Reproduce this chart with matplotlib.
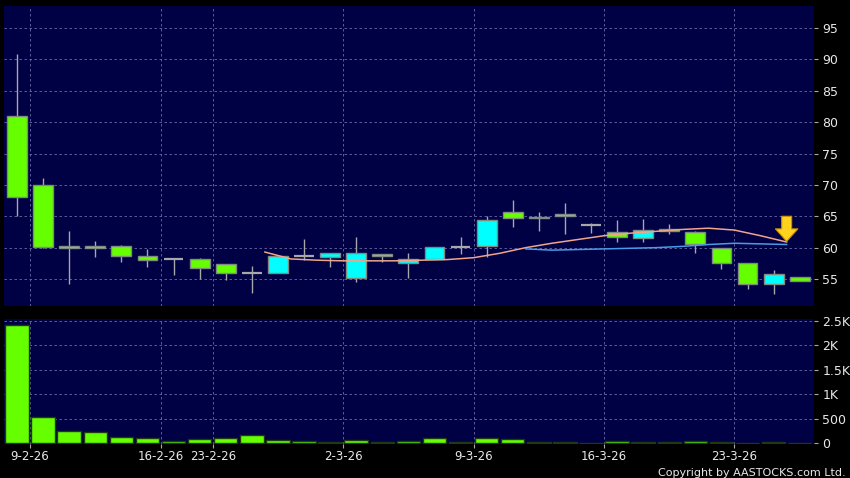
import matplotlib
matplotlib.use("Agg")
import matplotlib.pyplot as plt
from matplotlib.patches import Rectangle
from matplotlib.ticker import FixedLocator, FuncFormatter
import numpy as np

# daily candles, 6-2-26 .. 25-3-26 (index positions on the x axis)
opens = [81.0, 70.0, 60.2, 60.0, 60.3, 58.7, 58.2, 58.2, 57.4, 56.0,
         55.9, 58.7, 58.5, 55.2, 59.0, 57.6, 58.2, 60.1, 60.3, 65.7,
         64.7, 65.0, 63.6, 62.5, 61.5, 63.0, 62.5, 59.9, 57.5, 54.2, 55.3]
closes = [68.1, 60.1, 60.0, 60.2, 58.7, 58.1, 58.2, 56.8, 55.9, 56.0,
          58.7, 58.7, 59.1, 59.1, 58.6, 58.2, 60.1, 60.1, 64.4, 64.7,
          64.9, 65.4, 63.6, 61.7, 62.8, 62.6, 60.6, 57.5, 54.2, 55.8, 54.7]
highs = [90.9, 71.1, 62.7, 61.1, 60.5, 59.8, 58.4, 58.4, 57.4, 57.1,
         58.8, 61.4, 59.2, 61.7, 59.0, 59.1, 60.1, 61.7, 65.0, 67.6,
         65.7, 67.1, 63.9, 64.4, 64.6, 63.8, 62.7, 59.9, 57.5, 56.4, 55.3]
lows = [65.0, 60.0, 54.2, 58.5, 57.7, 56.9, 55.6, 55.0, 54.8, 52.8,
        55.9, 58.0, 56.9, 54.5, 57.7, 55.2, 58.2, 59.0, 58.5, 63.3,
        62.7, 62.2, 62.3, 60.9, 60.9, 62.2, 59.1, 56.6, 53.4, 52.6, 54.7]
volumes = [2420, 530, 250, 225, 120, 100, 40, 80, 95, 170,
           55, 50, 20, 55, 20, 45, 100, 20, 100, 80,
           25, 20, 10, 45, 25, 25, 40, 15, 10, 20, 5]

# moving averages as drawn (x in candle index units)
ma10_x = [9.5, 10.5, 11.5, 12.5, 13.5, 14.5, 15.5, 16.5, 17.5, 18.5, 19.5,
          20.5, 21.5, 22.5, 23.5, 24.5, 25.5, 26.5, 27.5, 28.5, 29.5]
ma10 = [59.3, 58.2, 58.0, 57.9, 57.9, 57.9, 58.0, 58.1, 58.4, 59.1, 60.0,
        60.7, 61.3, 61.9, 62.3, 62.6, 62.9, 63.1, 62.8, 61.9, 60.9]
ma20_x = [19.5, 20.5, 21.5, 22.5, 23.5, 24.5, 25.5, 26.5, 27.5, 28.5, 29.5]
ma20 = [59.8, 59.6, 59.7, 59.8, 59.9, 60.0, 60.2, 60.5, 60.7, 60.6, 60.5]

date_idx = [1, 6, 8, 13, 18, 23, 28]
date_labels = ["9-2-26", "16-2-26", "23-2-26", "2-3-26", "9-3-26", "16-3-26", "23-3-26"]
price_ticks = [55, 60, 65, 70, 75, 80, 85, 90, 95]
vol_ticks = [0, 500, 1000, 1500, 2000, 2500]

BG = "#000044"
GRID = "#6a6aa8"
TXT = "#e8e8e8"
UP = "#00ffff"
DOWN = "#66ff00"
FLAT = "#a8a8a8"

fig = plt.figure(figsize=(8.5, 4.78), dpi=100, facecolor="black")
ax = fig.add_axes([0.0047, 0.3598, 0.953, 0.6276])
axv = fig.add_axes([0.0047, 0.0711, 0.953, 0.2615])

grid_x = [i - 0.5 for i in date_idx]
xlim = (-0.5, 30.55)

for a in (ax, axv):
    a.set_facecolor(BG)
    a.set_xlim(*xlim)
    for s in a.spines.values():
        s.set_visible(False)
    a.yaxis.tick_right()
    a.tick_params(axis="y", colors=FLAT, labelcolor=TXT, length=3, width=0.8,
                  pad=3, labelsize=9)
    for gx in grid_x:
        a.axvline(gx, color=GRID, lw=0.6, ls=(0, (3, 3)), zorder=0.5)

# price panel
ax.set_ylim(50.7, 98.5)
ax.yaxis.set_major_locator(FixedLocator(price_ticks))
for t in price_ticks:
    ax.axhline(t, color=GRID, lw=0.6, ls=(0, (3, 3)), zorder=0.5)
ax.set_xticks([])

body_w = 0.76
for i, (o, c, h, l) in enumerate(zip(opens, closes, highs, lows)):
    if c > o:
        col = UP
    elif c < o:
        col = DOWN
    else:
        col = FLAT
    ax.vlines(i, l, h, color=FLAT, lw=1, zorder=2)
    if c == o:
        ax.hlines(o, i - body_w / 2, i + body_w / 2, color=FLAT, lw=1.6, zorder=3)
    else:
        ax.add_patch(Rectangle((i - body_w / 2, min(o, c)), body_w, abs(c - o),
                               facecolor=col, edgecolor="#7f8a80", lw=1, zorder=3))

ax.plot(ma10_x, ma10, color="#f0a48a", lw=1.1, zorder=4)
ax.plot(ma20_x, ma20, color="#4a9be6", lw=1.1, zorder=4)

ax.annotate("", xy=(ma10_x[-1], 61.0), xytext=(ma10_x[-1], 65.0),
            arrowprops=dict(arrowstyle="simple,head_length=0.75,head_width=1.35,tail_width=0.6",
                            fc="#ffd21f", ec="#c89000", lw=0.8, mutation_scale=12,
                            shrinkA=0, shrinkB=0),
            zorder=6)

# volume panel
axv.set_ylim(-20, 2540)
axv.yaxis.set_major_locator(FixedLocator(vol_ticks))
axv.yaxis.set_major_formatter(FuncFormatter(
    lambda v, p: "0" if v == 0 else (f"{v / 1000:g}K" if v >= 1000 else f"{v:g}")))
for t in vol_ticks[1:]:
    axv.axhline(t, color=GRID, lw=0.6, ls=(0, (3, 3)), zorder=0.5)
axv.bar(np.arange(len(volumes)), volumes, width=0.9, color=DOWN,
        edgecolor="#1e3a10", lw=1, zorder=3)
axv.set_xticks(grid_x)
axv.set_xticklabels(date_labels)
axv.tick_params(axis="x", colors=FLAT, labelcolor=TXT, length=3, width=0.8,
                pad=1.5, labelsize=8.5)

fig.text(0.995, 0.0, "Copyright by AASTOCKS.com Ltd.", color=TXT,
         fontsize=8, ha="right", va="bottom")

fig.savefig("out.png", dpi=100, facecolor="black")
